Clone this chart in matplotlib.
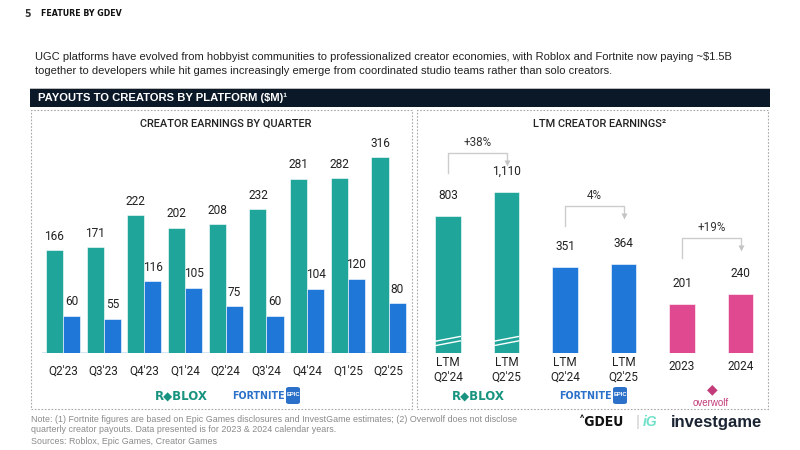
import numpy as np
import matplotlib.pyplot as plt
from matplotlib.patches import Rectangle, FancyBboxPatch

W, H = 800, 450

# --- data ---
quarters = ["Q2'23", "Q3'23", "Q4'23", "Q1'24", "Q2'24", "Q3'24", "Q4'24", "Q1'25", "Q2'25"]
roblox_q = [166, 171, 222, 202, 208, 232, 281, 282, 316]
fortnite_q = [60, 55, 116, 105, 75, 60, 104, 120, 80]

ltm_labels = ["LTM\nQ2'24", "LTM\nQ2'25", "LTM\nQ2'24", "LTM\nQ2'25", "2023", "2024"]
ltm_values = [803, 1110, 351, 364, 201, 240]
ltm_growth = ["+38%", "4%", "+19%"]

TEAL = "#1fa59a"
BLUE = "#1f78d8"
PINK = "#e0498f"
NAVY = "#0b1828"
TXT = "#222222"

plt.rcParams['font.family'] = ['Liberation Sans', 'DejaVu Sans']

fig = plt.figure(figsize=(8, 4.5), dpi=100)
fig.patch.set_facecolor('white')


def fx(x):
    return x / W


def fy(y):
    return 1 - y / H


def ftext(x, y, s, **kw):
    fig.text(fx(x), fy(y), s, **kw)


# header
ftext(24, 14, "5", fontsize=7.5, fontweight='heavy', color='#333333', va='center',
      family='DejaVu Sans', fontstretch='condensed')
ftext(41, 14, "FEATURE BY GDEV", fontsize=6.3, fontweight='heavy', color='#111111',
      va='center', family='DejaVu Sans', fontstretch='condensed')
ftext(35, 57, "UGC platforms have evolved from hobbyist communities to professionalized creator "
      "economies, with Roblox and Fortnite now paying ~$1.5B", fontsize=8.05, color=TXT, va='center')
ftext(35, 71, "together to developers while hit games increasingly emerge from coordinated studio "
      "teams rather than solo creators.", fontsize=8.05, color=TXT, va='center')

# banner
fig.patches.append(Rectangle((fx(30), fy(107)), fx(740), 19 / H, transform=fig.transFigure,
                             facecolor=NAVY, edgecolor='none'))
fig.patches.append(Rectangle((fx(30), fy(89)), fx(740), 1.2 / H, transform=fig.transFigure,
                             facecolor='#bbbbbb', edgecolor='none'))
ftext(38, 98, "PAYOUTS TO CREATORS BY PLATFORM ($M)\u00b9", fontsize=8.1, fontweight='bold',
      color='white', va='center')

# dashed boxes
for x0, x1 in [(31, 412), (417, 768)]:
    fig.patches.append(Rectangle((fx(x0), fy(409)), fx(x1 - x0), (409 - 110) / H,
                                 transform=fig.transFigure, facecolor='none',
                                 edgecolor='#a8a8a8', lw=0.8, ls=(0, (1.5, 1.5))))

# ---- left chart ----
axL = fig.add_axes([fx(42), fy(353), fx(410 - 42), (353 - 140) / H])
x = np.arange(len(quarters))
bw = 0.42
axL.bar(x - bw / 2, roblox_q, bw, color=TEAL, edgecolor='white', lw=0.4)
axL.bar(x + bw / 2, fortnite_q, bw, color=BLUE, edgecolor='white', lw=0.4)
for i in range(len(quarters)):
    axL.text(x[i] - bw / 2, roblox_q[i] + 12, str(roblox_q[i]), ha='center', va='bottom',
             fontsize=8.6, color=TXT, family='Roboto')
    axL.text(x[i] + bw / 2, fortnite_q[i] + 12, str(fortnite_q[i]), ha='center', va='bottom',
             fontsize=8.6, color=TXT, family='Roboto')
axL.set_xlim(-0.516, 8.526)
axL.set_ylim(0, 343.5)
axL.axhline(0, color='#d4e6f3', lw=2.2, zorder=0.5)
axL.set_xticks(x)
axL.set_xticklabels(quarters, fontsize=8.5, color=TXT, family='Roboto')
axL.tick_params(axis='x', length=0, pad=8)
axL.set_yticks([])
for s in axL.spines.values():
    s.set_visible(False)
axL.patch.set_alpha(0)
ftext(226, 124, "CREATOR EARNINGS BY QUARTER", fontsize=7.9, fontweight='medium', color=TXT,
      ha='center', va='center', family='Roboto')

# ---- right chart ----
axR = fig.add_axes([fx(420), fy(353), fx(768 - 420), (353 - 140) / H])
BREAK_AT, BREAK_K = 445, 0.32
shown = [BREAK_AT + (v - BREAK_AT) * BREAK_K if i < 2 else v for i, v in enumerate(ltm_values)]
colors = [TEAL, TEAL, BLUE, BLUE, PINK, PINK]
xr = np.arange(len(ltm_values))
rbw = 0.44
axR.bar(xr, shown, rbw, color=colors, edgecolor='white', lw=0.4)
for i in range(len(ltm_values)):
    axR.text(xr[i], shown[i] + 58, f"{ltm_values[i]:,}", ha='center', va='bottom',
             fontsize=8.6, color=TXT, family='Roboto')
    lab = ltm_labels[i]
    axR.annotate(lab, (xr[i], 0), xycoords=('data', 'axes fraction'),
                 xytext=(0, -2 if '\n' in lab else -5), textcoords='offset points',
                 ha='center', va='top', fontsize=8.5, color=TXT, family='Roboto',
                 linespacing=1.15)
# break marks on Roblox bars
for i in range(2):
    for dy in (30, 48):
        axR.plot([xr[i] - rbw / 2, xr[i] + rbw / 2], [dy, dy + 20], color='white', lw=1.0,
                 solid_capstyle='butt')
# growth brackets
bracket_top = [816, 600, 470]
px = 1 / 0.245
for g in range(3):
    xa, xb = xr[2 * g], xr[2 * g + 1]
    t = bracket_top[g]
    axR.plot([xa, xa, xb, xb], [t - 20 * px, t, t, t - 9 * px], color='#cccccc', lw=1.0)
    axR.plot([xb], [t - 10 * px], marker='v', color='#c4c4c4', markersize=5, mec='none')
    axR.text((xa + xb) / 2, t + 10 * px, ltm_growth[g], ha='center', va='center',
             fontsize=8.4, color='#333333', family='Roboto')
axR.set_xlim(-0.48, 5.47)
axR.set_ylim(0, 869)
axR.set_xticks([])
axR.set_yticks([])
for s in axR.spines.values():
    s.set_visible(False)
axR.patch.set_alpha(0)
ftext(600, 124, "LTM CREATOR EARNINGS\u00b2", fontsize=7.9, fontweight='medium', color=TXT,
      ha='center', va='center', family='Roboto')


# logos (as text)
def roblox_logo(xc, y):
    ftext(xc, y, "R\u25c6BLOX", fontsize=8.5, fontweight='heavy', color='#17937f', ha='center',
          va='center', family='DejaVu Sans')


def fortnite_logo(x0, y):
    ftext(x0, y, "FORTNITE", fontsize=7.6, fontweight='heavy', color='#2b70c9', va='center',
          family='DejaVu Sans', fontstretch='condensed')
    fig.patches.append(FancyBboxPatch((fx(x0 + 54), fy(404)), fx(14), 17 / H,
                                      boxstyle='round,pad=0,rounding_size=0.004',
                                      transform=fig.transFigure, facecolor='#2b70c9',
                                      edgecolor='none'))
    ftext(x0 + 61, y - 2, "EPIC", fontsize=4.2, fontweight='bold', color='white', ha='center',
          va='center')


roblox_logo(181, 396)
fortnite_logo(232, 396)
roblox_logo(478, 396)
fortnite_logo(559, 396)
ftext(712, 389, "\u25c6", fontsize=10, color='#c23c7a', ha='center', va='center')
ftext(711, 403, "overwolf", fontsize=7, color='#c23c7a', ha='center', va='center')

# footer
note_kw = dict(fontsize=6.4, color='#8a8a8a', va='center',
               family=['Liberation Sans Narrow', 'Liberation Sans'])
ftext(31, 419, "Note: (1) Fortnite figures are based on Epic Games disclosures and InvestGame "
      "estimates; (2) Overwolf does not disclose", **note_kw)
ftext(31, 430, "quarterly creator payouts. Data presented is for 2023 & 2024 calendar years.", **note_kw)
ftext(31, 441, "Sources: Roblox, Epic Games, Creator Games", **note_kw)

ftext(579, 422, "\u02c4GDEU", fontsize=10, fontweight='heavy', color='#111111', va='center',
      family='DejaVu Sans', fontstretch='condensed')
ftext(636, 422, "|", fontsize=11, color='#cccccc', va='center')
ftext(643, 422, "iG", fontsize=10, fontweight='bold', style='italic', color='#6fe0c8', va='center')
ftext(671, 422, "investgame", fontsize=12, fontweight='bold', color='#1b2433', va='center')

fig.savefig("out.png", dpi=100)
